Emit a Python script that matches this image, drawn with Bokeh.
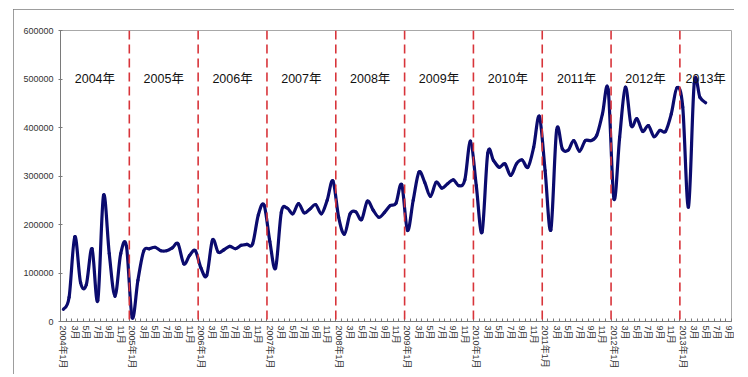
import math
from bokeh.plotting import figure
from bokeh.models import Range1d, FixedTicker, NumeralTickFormatter, Span, ColumnDataSource, InlineStyleSheet
from bokeh.core.properties import value
from bokeh.embed import file_html
from bokeh.resources import INLINE

# ---------------- data ----------------
start_year = 2004
n_categories = 117  # 2004-01 .. 2013-09

v2004 = [25000, 50000, 175000, 80000, 76000, 150000, 43000, 260000, 140000, 52000, 140000, 155000]
v2005 = [8000, 85000, 145000, 150000, 153000, 146000, 146000, 152000, 160000, 119000, 136000, 146000]
v2006 = [110000, 95000, 168000, 143000, 148000, 155000, 150000, 157000, 159000, 160000, 220000, 240000]
v2007 = [165000, 110000, 225000, 234000, 222000, 243000, 224000, 232000, 241000, 222000, 250000, 290000]
v2008 = [215000, 180000, 222000, 226000, 210000, 248000, 230000, 215000, 225000, 239000, 244000, 282000]
v2009 = [188000, 250000, 308000, 287000, 258000, 287000, 275000, 284000, 292000, 280000, 292000, 372000]
v2010 = [280000, 184000, 347000, 332000, 318000, 325000, 301000, 325000, 333000, 318000, 359000, 423000]
v2011 = [311000, 189000, 394000, 356000, 353000, 373000, 351000, 373000, 373000, 384000, 428000, 478000]
v2012 = [253000, 380000, 483000, 404000, 418000, 392000, 404000, 381000, 394000, 392000, 428000, 482000]
v2013 = [442000, 236000, 491000, 462000, 451000]

values = v2004 + v2005 + v2006 + v2007 + v2008 + v2009 + v2010 + v2011 + v2012 + v2013
years = list(range(2004, 2014))
year_labels = [f"{y}年" for y in years]
y_ticks = [0, 100000, 200000, 300000, 400000, 500000, 600000]

cat_labels = {}
for i in range(0, n_categories, 2):
    m = i % 12 + 1
    if m == 1:
        cat_labels[i] = f"{start_year + i // 12}年1月"
    else:
        cat_labels[i] = f"{m}月"

# smoothed line drawn as Bezier segments through the data points (Excel-like smoothing)
xs = list(range(len(values)))
n = len(values)
def P(k):
    k = max(0, min(n - 1, k))
    return xs[k], values[k]
seg = dict(x0=[], y0=[], x1=[], y1=[], cx0=[], cy0=[], cx1=[], cy1=[])
for i in range(n - 1):
    xa, ya = P(i - 1)
    xb, yb = P(i)
    xc, yc = P(i + 1)
    xd, yd = P(i + 2)
    seg["x0"].append(xb); seg["y0"].append(yb)
    seg["x1"].append(xc); seg["y1"].append(yc)
    seg["cx0"].append(xb + (xc - xa) / 6.0); seg["cy0"].append(yb + (yc - ya) / 6.0)
    seg["cx1"].append(xc - (xd - xb) / 6.0); seg["cy1"].append(yc - (yd - yb) / 6.0)

FONT = "Liberation Sans, Noto Sans CJK SC"

# the figure is the framed picture area (outer grey frame), placed at (13, 9)
p = figure(width=721, height=365, output_backend="svg", toolbar_location=None,
           x_range=Range1d(-0.5, n_categories - 0.5), y_range=Range1d(0, 600000),
           min_border_left=47, min_border_right=3, min_border_top=21, min_border_bottom=53,
           margin=(9, 0, 0, 13))
p.styles = {"outline": "1px solid #7d7d7d", "outline-offset": "-1px"}
p.stylesheets = [InlineStyleSheet(css=".bk-Canvas { outline: 1px solid #7d7d7d; outline-offset: -1px; }")]
p.background_fill_color = "white"
p.border_fill_color = "white"
p.outline_line_color = "#a8a8a8"
p.outline_line_width = 1
p.grid.visible = False

for k in range(1, len(years)):
    p.add_layout(Span(location=12 * k - 0.5, dimension="height", line_color="#d8343a",
                      line_width=1.6, line_dash="9 5"))

p.bezier(x0="x0", y0="y0", x1="x1", y1="y1", cx0="cx0", cy0="cy0", cx1="cx1", cy1="cy1",
         source=ColumnDataSource(seg), line_color="#0b0b6e", line_width=3.2, line_cap="round")

year_centers = []
for k, y in enumerate(years):
    a = 12 * k - 0.5
    b = min(12 * (k + 1) - 0.5, n_categories - 0.5)
    year_centers.append((a + b) / 2.0)
p.text(x=year_centers, y=[500000] * len(years), text=year_labels, text_align="center",
       text_baseline="middle", text_font=value(FONT), text_font_size="12.5px", text_color="#111111")

xa = p.xaxis[0]
xa.ticker = FixedTicker(ticks=list(cat_labels.keys()), minor_ticks=[k - 0.5 for k in range(n_categories + 1)])
xa.major_label_overrides = cat_labels
xa.major_label_orientation = -math.pi / 2
xa.major_label_text_font = FONT
xa.major_label_text_font_size = "9px"
xa.major_label_text_color = "#333333"
xa.major_label_standoff = 4
xa.major_tick_in = 0
xa.major_tick_out = 0
xa.minor_tick_in = 3
xa.minor_tick_out = 0
xa.minor_tick_line_color = "#7a7a7a"
xa.axis_line_color = "#7a7a7a"

ya = p.yaxis[0]
ya.ticker = FixedTicker(ticks=y_ticks, minor_ticks=[])
ya.formatter = NumeralTickFormatter(format="0")
ya.major_label_text_font = FONT
ya.major_label_text_font_size = "9px"
ya.major_label_text_color = "#333333"
ya.major_label_standoff = 5
ya.major_tick_in = 2
ya.major_tick_out = 2
ya.major_tick_line_color = "#7a7a7a"
ya.axis_line_color = "#7a7a7a"

open("out.html", "w").write(file_html(p, INLINE))
